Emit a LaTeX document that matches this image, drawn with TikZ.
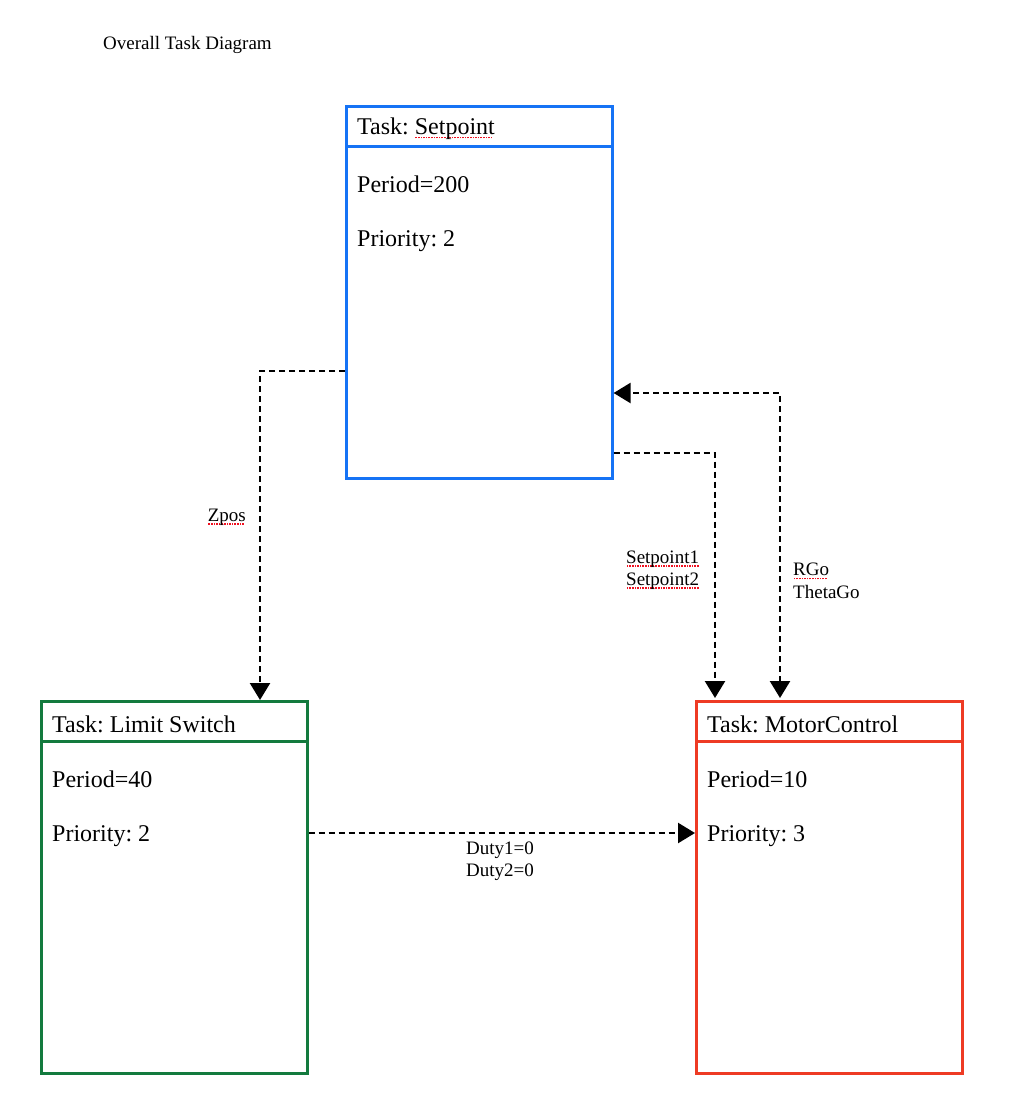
\documentclass[tikz,border=0pt]{standalone}
\usepackage{fontspec}
\setmainfont{Liberation Serif}
\usepackage{tikz}
\usetikzlibrary{arrows.meta,calc}
\definecolor{taskblue}{HTML}{1673F5}
\definecolor{taskgreen}{HTML}{137A3E}
\definecolor{taskred}{HTML}{EE3B24}
\definecolor{spellred}{HTML}{F01020}
\frenchspacing
% red dotted spell-check underline
\newcommand{\spellerr}[1]{\setbox0\hbox{#1}\rlap{\raisebox{-3.5pt}{\color{spellred}\hbox to \wd0{\leaders\hbox to 2.6pt{\hss\rule{1.6pt}{1.6pt}\hss}\hfill}}}#1}
\tikzset{
  taskbox/.style={draw, rectangle, line width=2.6pt, minimum width=266pt, minimum height=372pt, inner sep=0pt, anchor=north west},
  divider/.style={line width=3pt},
  tasktxt/.style={anchor=west, inner sep=0pt, font=\fontsize{24}{28}\selectfont},
  flow/.style={line width=2.4pt, dash pattern=on 6pt off 4pt, -{Triangle[length=17pt,width=20pt]}},
  lbl/.style={inner sep=0pt, align=left, font=\fontsize{19}{22.5}\selectfont},
}

\begin{document}
\begin{tikzpicture}[x=1pt, y=-1pt]
    \useasboundingbox[fill=white] (0,0) rectangle (1029,1113);
    \node[lbl, anchor=west] (title) at (103,45) {Overall Task Diagram};

    % tasks
    \node[taskbox, draw=taskblue] (setpoint) at (345,105) {};
    \draw[divider, taskblue] ($(setpoint.north west)+(0,41.5)$) -- ($(setpoint.north east)+(0,41.5)$);
    \node[tasktxt] (setpointname) at ($(setpoint.north west)+(12,24)$) {Task: \spellerr{Setpoint}};
    \node[tasktxt] (setpointperiod) at ($(setpoint.north west)+(12,79)$) {Period=200};
    \node[tasktxt] (setpointprio) at ($(setpoint.north west)+(12,136)$) {Priority: 2};

    \node[taskbox, draw=taskgreen] (limit) at (40,700) {};
    \draw[divider, taskgreen] ($(limit.north west)+(0,41.5)$) -- ($(limit.north east)+(0,41.5)$);
    \node[tasktxt] (limitname) at ($(limit.north west)+(12,24)$) {Task: Limit Switch};
    \node[tasktxt] (limitperiod) at ($(limit.north west)+(12,79)$) {Period=40};
    \node[tasktxt] (limitprio) at ($(limit.north west)+(12,136)$) {Priority: 2};

    \node[taskbox, draw=taskred] (motor) at (695,700) {};
    \draw[divider, taskred] ($(motor.north west)+(0,41.5)$) -- ($(motor.north east)+(0,41.5)$);
    \node[tasktxt] (motorname) at ($(motor.north west)+(12,24)$) {Task: MotorControl};
    \node[tasktxt] (motorperiod) at ($(motor.north west)+(12,79)$) {Period=10};
    \node[tasktxt] (motorprio) at ($(motor.north west)+(12,136)$) {Priority: 3};

    % shared variables
    \draw[flow] ($(setpoint.north west)+(0,266)$) -| ($(limit.north west)+(220,0)$);
    \draw[flow] ($(setpoint.north east)+(0,348)$) -| ($(motor.north west)+(20,-2)$);
    \draw[flow, {Triangle[length=17pt,width=20pt]}-{Triangle[length=17pt,width=20pt]}] ($(motor.north west)+(85,-2)$) |- ($(setpoint.north east)+(0,288)$);
    \draw[flow] ($(limit.north east)+(0,133)$) -- ($(motor.north west)+(0,133)$);

    \node[lbl, anchor=east] (zpos) at (246,517) {\spellerr{Zpos}};
    \node[lbl, anchor=west] (spvars) at (626,570) {\spellerr{Setpoint1}\\\spellerr{Setpoint2}};
    \node[lbl, anchor=west] (govars) at (793,581) {\spellerr{RGo}\\ThetaGo};
    \node[lbl, align=center] (dutyvars) at (500,861) {Duty1=0\\Duty2=0};
  \end{tikzpicture}
\end{document}
